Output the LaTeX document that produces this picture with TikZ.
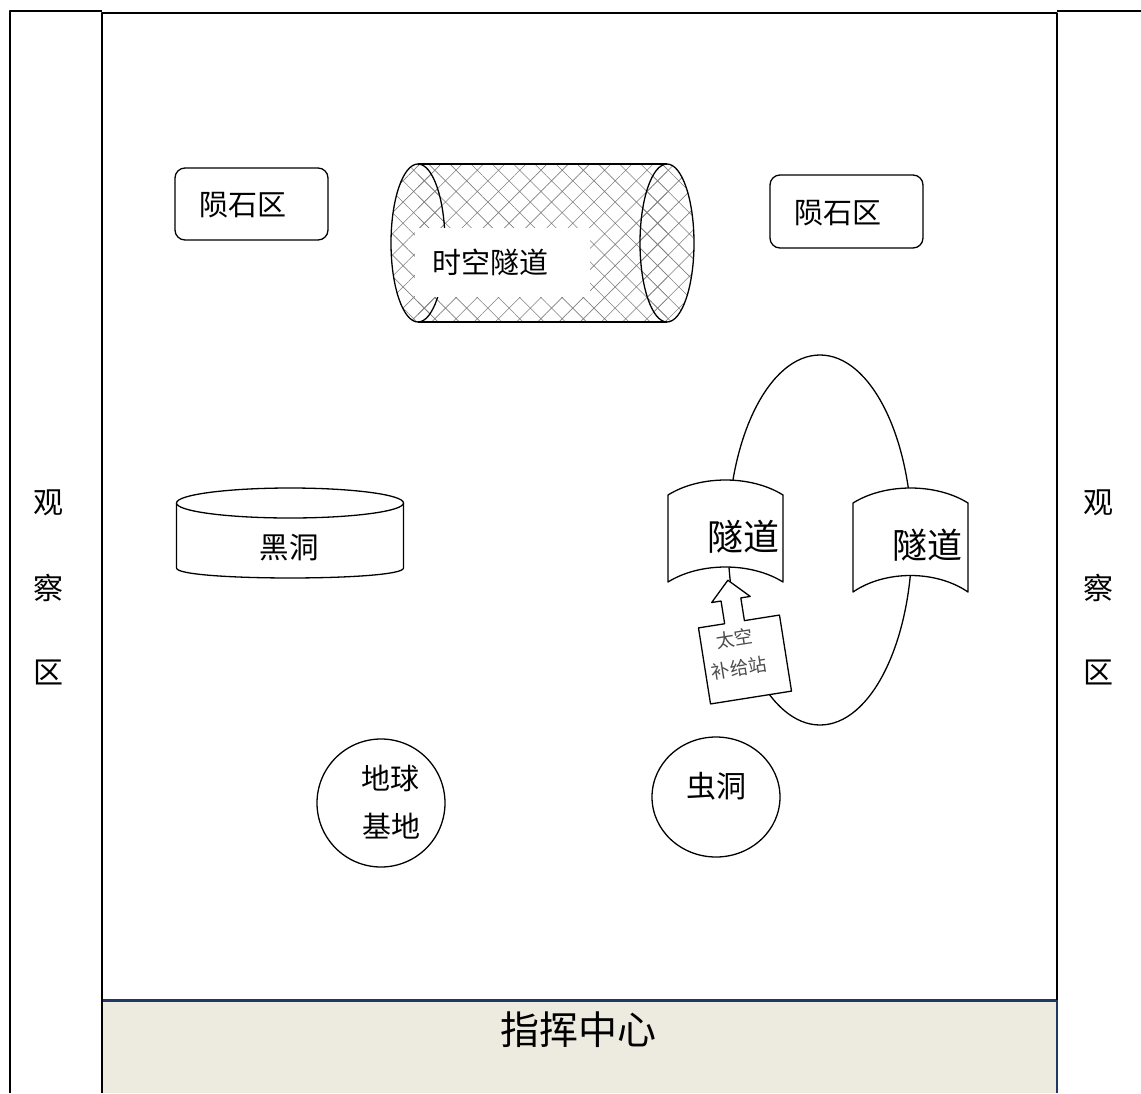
\documentclass[tikz,border=0pt]{standalone}
\usepackage{fontspec}
\newfontfamily\cjk{Noto Sans CJK SC}
\usetikzlibrary{patterns.meta}
\definecolor{ccfill}{RGB}{237,234,224}
\definecolor{ccline}{RGB}{31,56,100}
\begin{document}
\begin{tikzpicture}[x=1pt,y=-1pt, line join=round,
  shp/.style={draw=black, line width=1.3pt},
  frm/.style={draw=black, line width=2pt},
  txt/.style={font=\cjk\fontsize{#1}{#1}\selectfont, inner sep=0pt, text=black},
  txt/.default=29,
  sup/.style={font=\cjk\fontsize{18.5}{30}\selectfont, inner sep=0pt, text=black!70, align=center},
]
\useasboundingbox (0,0) rectangle (1141,1093);

% command centre
\fill[ccfill] (103,1000) rectangle (1056,1093);
\draw[ccline, line width=3pt] (102,1000) -- (1057,1000);
\draw[ccline, line width=2pt] (1057,1000) -- (1057,1093);
\node[txt=39] (cc) at (578,1030) {指挥中心};

% frames
\draw[frm] (10,1093) -- (10,11) -- (102,11);
\draw[frm] (1141,11) -- (1057,11);
\draw[frm] (102,1093) -- (102,13) -- (1057,13) -- (1057,1000);

% observation areas
\node[txt=30] (l1) at (48,503) {观};
\node[txt=30] (l2) at (48,588) {察};
\node[txt=30] (l3) at (48,672) {区};
\node[txt=30] (r1) at (1098,503) {观};
\node[txt=30] (r2) at (1098,588) {察};
\node[txt=30] (r3) at (1098,672) {区};

% meteor areas
\draw[shp, rounded corners=10pt] (175,168) rectangle (328,240);
\node[txt] (m1) at (243,205) {陨石区};
\draw[shp, rounded corners=10pt] (770,175) rectangle (923,248);
\node[txt] (m2) at (838,213) {陨石区};

% space-time tunnel cylinder
\begin{scope}[pattern={Hatch[angle=45,distance=15pt,line width=0.6pt]}, pattern color=black!50]
\path[pattern] (418,164) rectangle (667,322);
\path[pattern] (418,243) ellipse [x radius=27, y radius=79];
\path[pattern] (667,243) ellipse [x radius=27, y radius=79];
\end{scope}
\draw[shp] (418,164) -- (667,164);
\draw[shp] (418,322) -- (667,322);
\draw[shp] (418,243) ellipse [x radius=27, y radius=79];
\draw[shp] (667,243) ellipse [x radius=27, y radius=79];
\fill[white] (415,228) rectangle (590,297);
\node[txt] (st) at (490,262) {时空隧道};

% black hole
\draw[shp, fill=white] (176.5,503) -- (176.5,568) .. controls (176.5,581.3) and (403.5,581.3) .. (403.5,568) -- (403.5,503);
\draw[shp, fill=white] (290,503) ellipse [x radius=113.5, y radius=15];
\node[txt=29.5] (bh) at (289,548) {黑洞};

% earth base
\draw[shp] (381,803) circle [radius=64];
\node[txt] (eb1) at (390,778) {地球};
\node[txt] (eb2) at (391,826) {基地};

% wormhole
\draw[shp] (716,797) ellipse [x radius=64, y radius=60];
\node[txt=30] (wh) at (716,786) {虫洞};

% loop
\draw[shp] (820,540) ellipse [x radius=92, y radius=185];

% tunnels
\draw[shp, fill=white] (668,495) .. controls (700,475) and (751,475) .. (783,495) -- (783,582) .. controls (751,562) and (700,562) .. (668,582) -- cycle;
\node[txt=36] (t1) at (743,537) {隧道};
\draw[shp, fill=white] (853,503) .. controls (885,483) and (936,483) .. (968,503) -- (968,592) .. controls (936,570) and (885,570) .. (853,592) -- cycle;
\node[txt=35] (t2) at (927,545) {隧道};

% supply station
\begin{scope}[shift={(745,659.5)}, rotate=9]
\draw[shp, fill=white] (-41,38.5) -- (-41,-38.5) -- (-14.5,-38.5) -- (-14.5,-61.5) -- (-24,-61.5) -- (-4.5,-81) -- (15,-61.5) -- (5.5,-61.5) -- (5.5,-38.5) -- (41,-38.5) -- (41,38.5) -- cycle;
\node[sup, rotate=9] (ss) at (-7,-7.5) {太空\\补给站};
\end{scope}
\end{tikzpicture}
\end{document}
